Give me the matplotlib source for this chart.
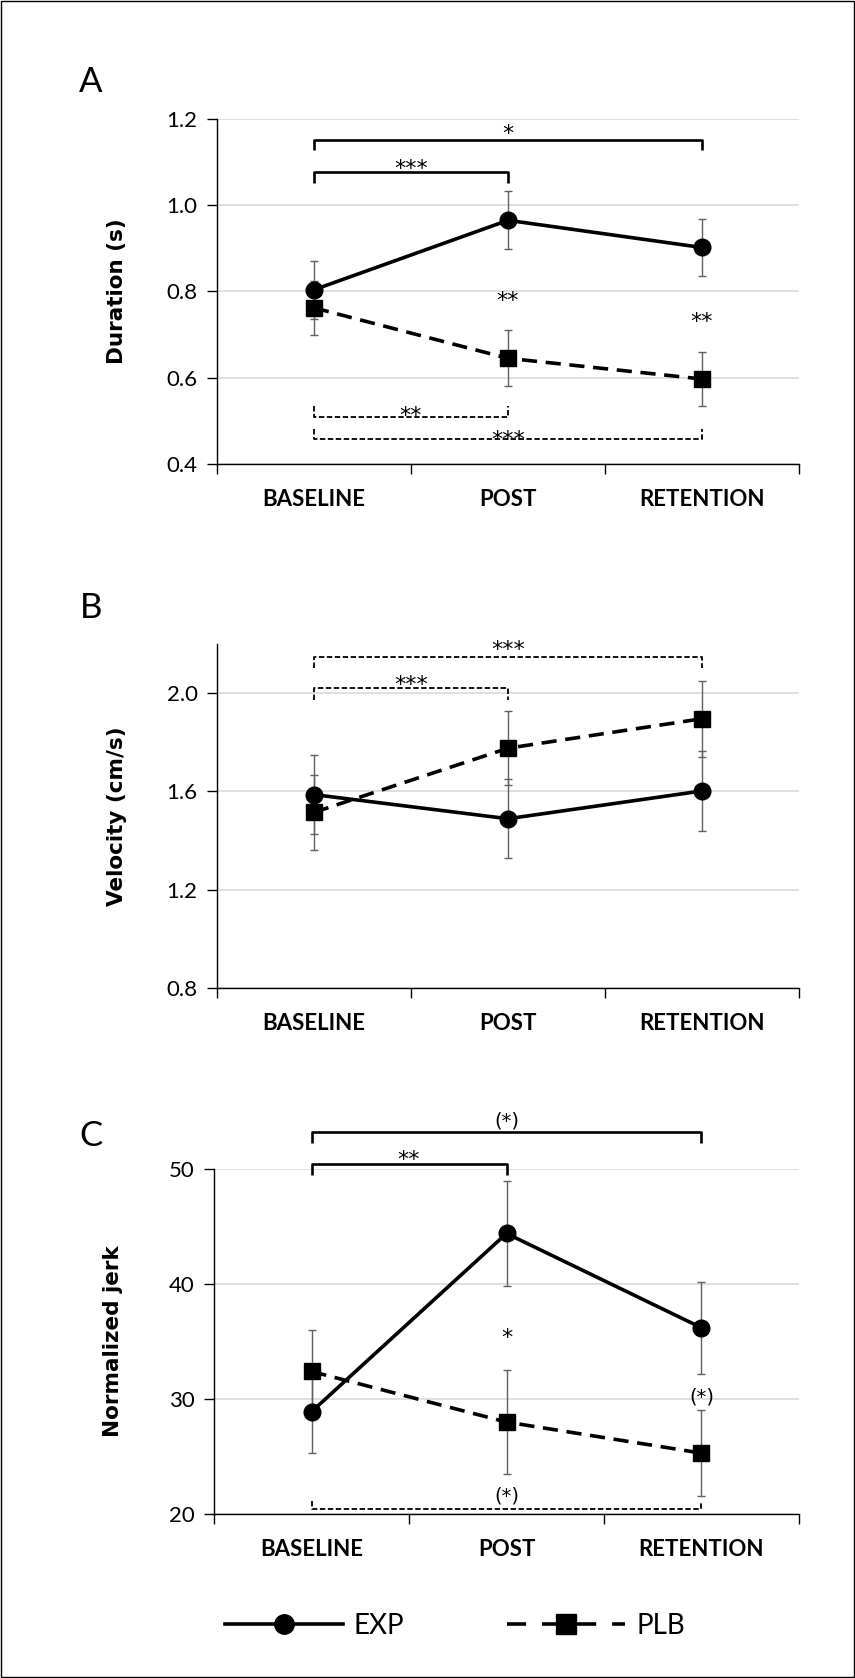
import matplotlib.pyplot as plt
from matplotlib.lines import Line2D
from matplotlib.patches import Rectangle
from matplotlib.ticker import FormatStrFormatter

plt.rcParams['font.family'] = ['Lato', 'DejaVu Sans']

phases = ["BASELINE", "POST", "RETENTION"]

dur_exp = [0.804, 0.965, 0.902]
dur_exp_err = [0.067, 0.067, 0.065]
dur_plb = [0.762, 0.645, 0.597]
dur_plb_err = [0.062, 0.065, 0.063]

vel_exp = [1.587, 1.489, 1.602]
vel_exp_err = [0.162, 0.160, 0.162]
vel_plb = [1.515, 1.776, 1.896]
vel_plb_err = [0.153, 0.150, 0.155]

jerk_exp = [28.9, 44.4, 36.2]
jerk_exp_err = [3.6, 4.6, 4.0]
jerk_plb = [32.4, 28.0, 25.3]
jerk_plb_err = [3.6, 4.5, 3.75]

# significance brackets: (from, to, y, leg, label, label y, style)
dur_brackets = [(0, 2, 1.152, -0.025, "*", 1.181, "solid"),
                (0, 1, 1.077, -0.025, "***", 1.100, "solid"),
                (0, 1, 0.509, 0.025, "**", 0.527, "dashed"),
                (0, 2, 0.457, 0.025, "***", 0.472, "dashed")]
dur_stars = [(1, 0.793, "**"), (2, 0.745, "**")]

vel_brackets = [(0, 2, 2.147, -0.046, "***", 2.205, "dashed"),
                (0, 1, 2.019, -0.048, "***", 2.060, "dashed")]
vel_stars = []

jerk_brackets = [(0, 2, 53.19, -0.93, "(*)", 54.3, "solid"),
                 (0, 1, 50.43, -0.93, "**", 51.4, "solid"),
                 (0, 2, 20.4, 0.76, "(*)", 21.65, "dashed")]
jerk_stars = [(1, 35.87, "*"), (2, 30.27, "(*)")]

DASH = (0, (4.2, 2.4))
LEGEND_DASH = (0, (5.3, 4.4))
SMALL_DASH = (0, (3, 1.4))


def star_text(ax, sx, sy, label):
    # place the glyph centre at sy: asterisks sit high above the baseline
    if label.startswith("("):
        fs, off = 14, -0.33 * 14
    else:
        fs, off = 16, -0.58 * 16
    ax.annotate(label, (sx, sy), xytext=(0, off), textcoords='offset points',
                ha='center', va='baseline', fontsize=fs, family='DejaVu Sans',
                annotation_clip=False)


fig = plt.figure(figsize=(8.55, 16.78), dpi=100)

panels = [
    ("A", [0.2538, 0.7235, 0.6807, 0.2056], 0.951, dur_exp, dur_exp_err, dur_plb, dur_plb_err,
     (0.4, 1.2), [0.4, 0.6, 0.8, 1.0, 1.2], "%.1f", "Duration (s)", dur_brackets, dur_stars),
    ("B", [0.2538, 0.4112, 0.6807, 0.2050], 0.6375, vel_exp, vel_exp_err, vel_plb, vel_plb_err,
     (0.8, 2.2), [0.8, 1.2, 1.6, 2.0], "%.1f", "Velocity (cm/s)", vel_brackets, vel_stars),
    ("C", [0.2503, 0.0977, 0.6842, 0.2056], 0.3230, jerk_exp, jerk_exp_err, jerk_plb, jerk_plb_err,
     (20, 50), [20, 30, 40, 50], "%d", "Normalized jerk", jerk_brackets, jerk_stars),
]

x = list(range(len(phases)))

for letter, rect, ly, exp, exp_err, plb, plb_err, ylim, yticks, fmt, ylabel, brackets, stars in panels:
    ax = fig.add_axes(rect)
    ax.errorbar(x, plb, yerr=plb_err, fmt='none', ecolor='#606060', elinewidth=1,
                capsize=3, capthick=1, zorder=2)
    ax.errorbar(x, exp, yerr=exp_err, fmt='none', ecolor='#606060', elinewidth=1,
                capsize=3, capthick=1, zorder=2)
    ax.plot(x, plb, color='black', lw=2.6, linestyle=DASH, marker='s', markersize=11, zorder=3)
    ax.plot(x, exp, color='black', lw=2.6, marker='o', markersize=12, zorder=4)

    for x0, x1, y, leg, label, label_y, style in brackets:
        if style == "solid":
            ax.plot([x0, x0, x1, x1], [y + leg, y, y, y + leg], color='black', lw=1.9,
                    clip_on=False, solid_capstyle='butt')
        else:
            ax.plot([x0, x0, x1, x1], [y + leg, y, y, y + leg], color='black', lw=1.3,
                    linestyle=SMALL_DASH, clip_on=False)
        star_text(ax, (x0 + x1) / 2, label_y, label)
    for sx, sy, label in stars:
        star_text(ax, sx, sy, label)

    ax.set_xlim(-0.5, 2.5)
    ax.set_ylim(*ylim)
    ax.set_yticks(yticks)
    ax.yaxis.set_major_formatter(FormatStrFormatter(fmt))
    ax.set_xticks(x)
    ax.set_xticklabels(phases, fontweight='bold', fontsize=16)
    ax.set_xticks([-0.5, 0.5, 1.5, 2.5], minor=True)
    ax.tick_params(axis='x', which='major', length=0, pad=18)
    ax.tick_params(axis='x', which='minor', length=7, width=1, direction='out')
    ax.tick_params(axis='y', length=7, width=1, pad=7, labelsize=16)
    ax.yaxis.grid(True, color='#d9d9d9', lw=1.2)
    ax.set_axisbelow(True)
    for side in ('top', 'right'):
        ax.spines[side].set_visible(False)
    ax.spines['left'].set_linewidth(1)
    ax.spines['bottom'].set_linewidth(1)
    ax.set_ylabel(ylabel, family='DejaVu Sans', fontweight='bold', fontsize=15.5)
    ax.yaxis.set_label_coords(-0.155, 0.5)

    fig.text(0.106, ly, letter, fontsize=25, ha='center', va='center')

handles = [Line2D([], [], color='black', lw=2.6, marker='o', markersize=14),
           Line2D([], [], color='black', lw=2.6, linestyle=LEGEND_DASH, marker='s', markersize=14)]
fig.legend(handles, ["EXP", "PLB"], loc='center', bbox_to_anchor=(0.532, 0.031), ncol=2,
           frameon=False, fontsize=20, handlelength=4.25, handletextpad=0.4, columnspacing=3.7)

fig.patches.append(Rectangle((0.001, 0.0006), 0.998, 0.9988, transform=fig.transFigure,
                             fill=False, edgecolor='black', lw=1))

fig.savefig("out.png", dpi=100)
